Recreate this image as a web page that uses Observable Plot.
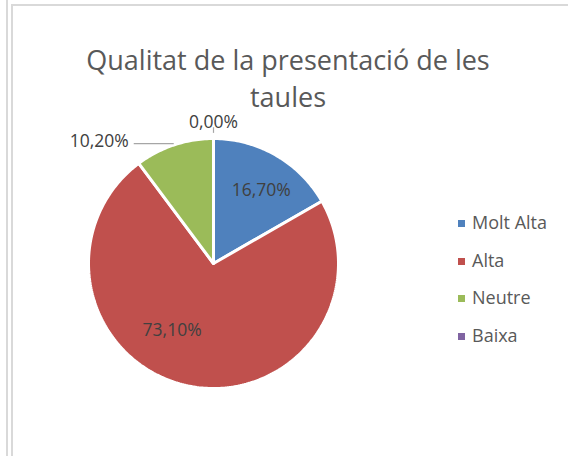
<!DOCTYPE html>
<html>
<head>
<meta charset="utf-8">
<script src="https://cdn.jsdelivr.net/npm/d3@7"></script>
<script src="https://cdn.jsdelivr.net/npm/@observablehq/plot@0.6"></script>
<style>
  body { margin: 0; background: #fff; }
  #wrap { position: relative; width: 568px; height: 456px; overflow: hidden; font-family: "Open Sans", sans-serif; }
  .bl { position: absolute; background: #d9d9d9; }
  #title { position: absolute; left: 38px; width: 500px; top: 41px; text-align: center; font-size: 27px; line-height: 37px; color: #595959; white-space: nowrap; }
  #legend { position: absolute; left: 458px; top: 210px; font-size: 18px; color: #595959; }
  .row { position: absolute; left: 0; height: 20px; white-space: nowrap; }
  .sw { position: absolute; left: 0; top: 10px; width: 7px; height: 7px; }
  .lt { position: absolute; left: 14px; top: -1px; line-height: 26px; }
  #chart { position: absolute; left: 0; top: 0; }
</style>
</head>
<body>
<div id="wrap">
  <div id="chart"></div>
  <div class="bl" style="left:6px;top:0;width:2px;height:456px"></div>
  <div class="bl" style="left:11px;top:4px;width:2px;height:452px"></div>
  <div class="bl" style="left:11px;top:4px;width:557px;height:2px"></div>
  <div id="title">Qualitat de la presentació de les<br>taules</div>
  <div id="legend"></div>
</div>
<script>
const categories = ["Molt Alta", "Alta", "Neutre", "Baixa"];
const values = [16.7, 73.1, 10.2, 0.0];
const labels = ["16,70%", "73,10%", "10,20%", "0,00%"];
const colors = ["#4F81BD", "#C0504D", "#9BBB59", "#8064A2"];

// layout (not data): label placement per slice
const labelAngleOffset = [3, 20, 0, 0];   // degrees
const labelRadius = [0.7, 0.63, 1.0, 1.13];
const outside = [false, false, true, true];

const total = d3.sum(values);
let acc = 0;
const slices = categories.map((c, i) => {
  const a0 = acc / total * 2 * Math.PI;
  acc += values[i];
  const a1 = acc / total * 2 * Math.PI;
  return {cat: c, a0, a1, mid: (a0 + a1) / 2, i};
});

// polygon points for each slice
const pts = [];
for (const s of slices) {
  if (s.a1 - s.a0 <= 0) continue;
  const n = Math.max(2, Math.ceil((s.a1 - s.a0) / (Math.PI / 180)));
  pts.push({cat: s.cat, x: 0, y: 0});
  for (let k = 0; k <= n; k++) {
    const a = s.a0 + (s.a1 - s.a0) * k / n;
    pts.push({cat: s.cat, x: Math.sin(a), y: Math.cos(a)});
  }
  pts.push({cat: s.cat, x: 0, y: 0});
}

const insideLabels = slices.filter(s => !outside[s.i]).map(s => {
  const a = s.mid + labelAngleOffset[s.i] * Math.PI / 180;
  return {x: labelRadius[s.i] * Math.sin(a), y: labelRadius[s.i] * Math.cos(a), t: labels[s.i]};
});

// Neutre: leader line from slice edge going left horizontally
const sN = slices[2];
const ex = Math.sin(sN.mid) * 1.01, ey = Math.cos(sN.mid) * 1.01;
const neutreLeader = [{x1: ex, y1: ey, x2: ex - 0.32, y2: ey}];
const neutreLabel = [{x: ex - 0.36, y: ey + 0.02, t: labels[2]}];
// Baixa: short tick at top
const sB = slices[3];
const baixaLeader = [{x1: Math.sin(sB.mid), y1: 1.045, x2: Math.sin(sB.mid), y2: 1.09}];
const baixaLabel = [{x: Math.sin(sB.mid), y: labelRadius[3], t: labels[3]}];

const plot = Plot.plot({
  width: 568,
  height: 456,
  marginLeft: 88,
  marginRight: 230,
  marginTop: 138,
  marginBottom: 68,
  x: {domain: [-1, 1], axis: null},
  y: {domain: [-1, 1], axis: null},
  color: {domain: categories, range: colors},
  style: {fontFamily: "Open Sans, sans-serif", overflow: "visible", background: "transparent"},
  marks: [
    Plot.line(pts, {x: "x", y: "y", z: "cat", fill: "cat", stroke: "white", strokeWidth: 3, strokeLinejoin: "miter", curve: "linear"}),
    Plot.text(insideLabels, {x: "x", y: "y", text: "t", fontSize: 17.5, fill: "#404040"}),
    Plot.link(neutreLeader, {x1: "x1", y1: "y1", x2: "x2", y2: "y2", stroke: "#a6a6a6", strokeWidth: 1.2}),
    Plot.text(neutreLabel, {x: "x", y: "y", text: "t", textAnchor: "end", fontSize: 17.5, fill: "#404040"}),
    Plot.link(baixaLeader, {x1: "x1", y1: "y1", x2: "x2", y2: "y2", stroke: "#a6a6a6", strokeWidth: 1.2}),
    Plot.text(baixaLabel, {x: "x", y: "y", text: "t", fontSize: 17.5, fill: "#404040"})
  ]
});
document.getElementById("chart").appendChild(plot);

const leg = document.getElementById("legend");
categories.forEach((c, i) => {
  const row = document.createElement("div");
  row.className = "row";
  row.style.top = (i * 37.6) + "px";
  row.innerHTML = `<div class="sw" style="background:${colors[i]}"></div><div class="lt">${c}</div>`;
  leg.appendChild(row);
});
</script>
</body>
</html>
